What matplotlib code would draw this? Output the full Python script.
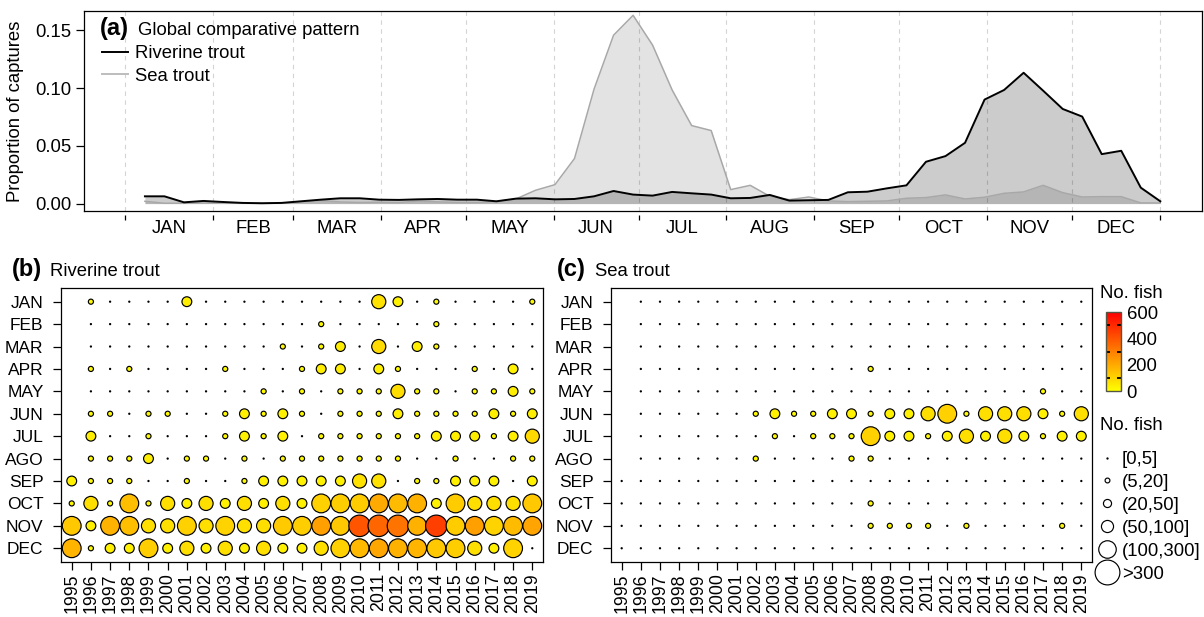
import numpy as np
import matplotlib
matplotlib.use("Agg")
import matplotlib.pyplot as plt
from matplotlib.colors import LinearSegmentedColormap, Normalize
from matplotlib.cm import ScalarMappable
from matplotlib.lines import Line2D

plt.rcParams['font.family'] = ['Liberation Sans', 'DejaVu Sans']

# ---------------- data: panel (a) ----------------
months_a = ['JAN', 'FEB', 'MAR', 'APR', 'MAY', 'JUN', 'JUL', 'AUG', 'SEP', 'OCT', 'NOV', 'DEC']
month_days = [31, 28, 31, 30, 31, 30, 31, 31, 30, 31, 30, 31]
weeks = list(range(1, 54))
riverine = [0.0063, 0.0063, 0.0011, 0.0023, 0.0014, 0.0006, 0.0003, 0.0006, 0.0020, 0.0034,
            0.0046, 0.0046, 0.0034, 0.0032, 0.0037, 0.0040, 0.0034, 0.0034, 0.0020, 0.0043,
            0.0046, 0.0037, 0.0040, 0.0063, 0.0109, 0.0078, 0.0069, 0.0101, 0.0089, 0.0078,
            0.0046, 0.0049, 0.0075, 0.0026, 0.0029, 0.0032, 0.0098, 0.0103, 0.0132, 0.0158,
            0.0362, 0.0411, 0.0526, 0.0900, 0.0983, 0.1132, 0.0977, 0.0819, 0.0753, 0.0428,
            0.0457, 0.0138, 0.0020]
sea = [0.0020, 0.0003, 0.0003, 0.0005, 0.0005, 0.0003, 0.0003, 0.0005, 0.0015, 0.0028,
       0.0014, 0.0010, 0.0012, 0.0009, 0.0023, 0.0015, 0.0010, 0.0010, 0.0017, 0.0040,
       0.0115, 0.0164, 0.0390, 0.0990, 0.1457, 0.1629, 0.1371, 0.0983, 0.0675, 0.0632,
       0.0121, 0.0158, 0.0063, 0.0034, 0.0057, 0.0023, 0.0017, 0.0020, 0.0023, 0.0046,
       0.0052, 0.0075, 0.0040, 0.0055, 0.0089, 0.0101, 0.0158, 0.0095, 0.0057, 0.0060,
       0.0060, 0.0006, 0.0006]

# ---------------- data: panels (b) and (c) ----------------
years = [str(y) for y in range(1995, 2020)]
months_b = ['JAN', 'FEB', 'MAR', 'APR', 'MAY', 'JUN', 'JUL', 'AGO', 'SEP', 'OCT', 'NOV', 'DEC']
nan = np.nan
riv_counts = [
    [nan, 12, 2, 2, 2, 2, 40, 2, 2, 2, 2, 2, 2, 2, 2, 2, 70, 35, 2, 12, 2, 2, 2, 2, 12],
    [nan, 2, 2, 2, 2, 2, 2, 2, 2, 2, 2, 2, 2, 12, 2, 2, 2, 2, 2, 12, 2, 2, 2, 2, 2],
    [nan, 2, 2, 2, 2, 2, 2, 2, 2, 2, 2, 12, 2, 12, 40, 2, 85, 2, 40, 12, 2, 2, 2, 2, 2],
    [nan, 12, 2, 12, 2, 2, 2, 2, 12, 2, 2, 2, 12, 40, 40, 2, 35, 12, 2, 2, 2, 12, 2, 35, 2],
    [nan, 2, 2, 2, 2, 2, 2, 2, 2, 2, 12, 2, 12, 2, 12, 12, 12, 80, 12, 12, 2, 12, 12, 40, 12],
    [nan, 12, 12, 2, 12, 12, 2, 2, 12, 35, 12, 35, 12, 2, 12, 12, 12, 40, 12, 12, 15, 15, 40, 12, 40],
    [nan, 40, 2, 2, 12, 2, 2, 2, 12, 35, 12, 35, 2, 12, 12, 12, 12, 12, 12, 40, 40, 40, 12, 40, 90],
    [nan, 12, 12, 12, 40, 2, 12, 12, 2, 12, 2, 12, 12, 12, 12, 12, 12, 12, 2, 2, 12, 2, 2, 12, 12],
    [35, 12, 12, 12, 2, 2, 12, 2, 2, 12, 35, 35, 35, 35, 35, 70, 70, 2, 12, 12, 35, 35, 35, 2, 35],
    [12, 75, 12, 150, 12, 75, 35, 75, 35, 75, 35, 75, 35, 110, 115, 120, 200, 160, 185, 35, 120, 75, 75, 75, 130],
    [130, 35, 180, 150, 75, 75, 110, 75, 105, 75, 75, 125, 115, 225, 130, 400, 360, 330, 185, 450, 120, 225, 105, 160, 215],
    [175, 12, 35, 35, 115, 35, 75, 35, 75, 35, 75, 35, 35, 75, 110, 165, 210, 185, 175, 130, 115, 75, 35, 105, 2],
]
sea_counts = [
    [nan, 2, 2, 2, 2, 2, 2, 2, 2, 2, 2, 2, 2, 2, 2, 2, 2, 2, 2, 2, 2, 2, 2, 2, 2],
    [nan, 2, 2, 2, 2, 2, 2, 2, 2, 2, 2, 2, 2, 2, 2, 2, 2, 2, 2, 2, 2, 2, 2, 2, 2],
    [nan, 2, 2, 2, 2, 2, 2, 2, 2, 2, 2, 2, 2, 2, 2, 2, 2, 2, 2, 2, 2, 2, 2, 2, 2],
    [nan, 2, 2, 2, 2, 2, 2, 2, 2, 2, 2, 2, 2, 12, 2, 2, 2, 2, 2, 2, 2, 2, 2, 2, 2],
    [nan, 2, 2, 2, 2, 2, 2, 2, 2, 2, 2, 2, 2, 2, 2, 2, 2, 2, 2, 2, 2, 2, 12, 2, 2],
    [nan, 2, 2, 2, 2, 2, 2, 12, 35, 12, 12, 35, 35, 12, 35, 35, 75, 110, 12, 75, 75, 75, 35, 12, 75],
    [nan, 2, 2, 2, 2, 2, 2, 2, 12, 2, 12, 12, 12, 110, 35, 35, 12, 35, 75, 35, 75, 35, 12, 35, 35],
    [nan, 2, 2, 2, 2, 2, 2, 12, 2, 2, 2, 2, 12, 12, 2, 2, 2, 2, 2, 2, 2, 2, 2, 2, 2],
    [2, 2, 2, 2, 2, 2, 2, 2, 2, 2, 2, 2, 2, 2, 2, 2, 2, 2, 2, 2, 2, 2, 2, 2, 2],
    [2, 2, 2, 2, 2, 2, 2, 2, 2, 2, 2, 2, 2, 12, 2, 2, 2, 2, 2, 2, 2, 2, 2, 2, 2],
    [2, 2, 2, 2, 2, 2, 2, 2, 2, 2, 2, 2, 2, 12, 12, 12, 12, 2, 12, 2, 2, 2, 2, 12, 2],
    [2, 2, 2, 2, 2, 2, 2, 2, 2, 2, 2, 2, 2, 2, 2, 2, 2, 2, 2, 2, 2, 2, 2, 2, 2],
]
size_bins = [5, 20, 50, 100, 300]
size_labels = ['[0,5]', '(5,20]', '(20,50]', '(50,100]', '(100,300]', '>300']
cbar_ticks = [0, 200, 400, 600]

# ---------------- styling ----------------
W, H = 1204, 617
FS = 13.3
chart_diam_px = [2.3, 6.3, 11.0, 15.3, 20.0, 22.7]
legend_diam_px = [2.3, 6.0, 9.3, 13.3, 18.7, 26.0]
cmap = LinearSegmentedColormap.from_list('heat', ['#FFFF00', '#FF0000'])
norm = Normalize(0, 600)

fig = plt.figure(figsize=(W / 100, H / 100), dpi=100)


def fax(l, t, r, b):
    return fig.add_axes([l / W, 1 - b / H, (r - l) / W, (b - t) / H])


# ---------------- panel (a) ----------------
ax = fax(84, 10.7, 1201.7, 211)
xw = np.array(weeks) * 365 / 53
bounds = np.concatenate([[0], np.cumsum(month_days)])
centers = bounds[:-1] + np.array(month_days) / 2
for b in bounds:
    ax.axvline(b, color='#d4d4d4', lw=0.8, ls=(0, (4, 4)), zorder=0)
ax.fill_between(xw, 0, sea, color='black', alpha=0.11, lw=0, zorder=1)
ax.fill_between(xw, 0, riverine, color='black', alpha=0.20, lw=0, zorder=1)
ax.plot(xw, sea, color='#a8a8a8', lw=1.1, zorder=2)
ax.plot(xw, riverine, color='black', lw=1.4, zorder=3)
ax.set_xlim(-14.6, 379.6)
ax.set_ylim(-0.0064, 0.1669)
ax.set_xticks([])
ax.set_yticks([0, 0.05, 0.10, 0.15], labels=['0.00', '0.05', '0.10', '0.15'])
ax.tick_params(axis='y', length=5.8, width=0.9, pad=3, labelsize=FS)
for s in ax.spines.values():
    s.set_linewidth(0.9)
sec = ax.secondary_xaxis(-0.02)
sec.spines['bottom'].set_visible(False)
sec.set_xticks(bounds, labels=[''] * len(bounds))
sec.set_xticks(centers, labels=months_a, minor=True)
sec.tick_params(which='major', length=3.8, width=0.9)
sec.tick_params(which='minor', length=0, pad=3.5, labelsize=FS)
fig.text(16 / W, 1 - 111 / H, 'Proportion of captures', rotation=90,
         ha='center', va='center', fontsize=FS)
fig.text(100 / W, 1 - 35.3 / H, '(a)', fontweight='bold', fontsize=17, va='baseline')
fig.text(138 / W, 1 - 35.3 / H, 'Global comparative pattern', fontsize=FS, va='baseline')
leg_a = ax.legend(handles=[Line2D([], [], color='black', lw=1.4),
                           Line2D([], [], color='#bdbdbd', lw=1.4)],
                  labels=['Riverine trout', 'Sea trout'],
                  loc='upper left', bbox_to_anchor=(102 / W, 1 - 45 / H),
                  bbox_transform=fig.transFigure, frameon=False, fontsize=FS,
                  borderpad=0, handlelength=1.4, handletextpad=0.38, labelspacing=0.31,
                  borderaxespad=0)


# ---------------- panels (b), (c) ----------------
def bubble(ax, counts):
    arr = np.array(counts, dtype=float)
    yy, xx = np.nonzero(~np.isnan(arr))
    vals = arr[yy, xx]
    bins = np.digitize(vals, size_bins, right=True)
    diam = np.array(chart_diam_px)[bins]
    dots = bins == 0
    ax.scatter(xx[dots], yy[dots], s=(diam[dots] * 0.72) ** 2, color='black',
               linewidths=0, zorder=3)
    ax.scatter(xx[~dots], yy[~dots], s=((diam[~dots] - 1.2) * 0.72) ** 2,
               c=vals[~dots], cmap=cmap, norm=norm, edgecolors='black',
               linewidths=0.85, zorder=3)
    ax.set_xlim(-0.574, 24.574)
    ax.set_ylim(11.6, -0.624)
    ax.set_xticks(range(len(years)), labels=years, rotation=90)
    ax.set_yticks(range(len(months_b)), labels=months_b)
    ax.tick_params(axis='x', length=5.8, width=0.9, pad=2.5, labelsize=12.8)
    ax.tick_params(axis='y', length=5.8, width=0.9, pad=6.5, labelsize=12.5)
    for s in ax.spines.values():
        s.set_linewidth(0.9)


ax_b = fax(60.7, 287.7, 543.3, 561.7)
bubble(ax_b, riv_counts)
ax_c = fax(610.7, 287.7, 1092.3, 561.7)
bubble(ax_c, sea_counts)

fig.text(12 / W, 1 - 276 / H, '(b)', fontweight='bold', fontsize=17, va='baseline')
fig.text(50 / W, 1 - 276 / H, 'Riverine trout', fontsize=FS, va='baseline')
fig.text(557 / W, 1 - 276 / H, '(c)', fontweight='bold', fontsize=17, va='baseline')
fig.text(595 / W, 1 - 276 / H, 'Sea trout', fontsize=FS, va='baseline')

# colour bar legend
cax = fax(1105.7, 312.3, 1121, 391)
cb = fig.colorbar(ScalarMappable(norm=norm, cmap=cmap), cax=cax, ticks=cbar_ticks)
cb.outline.set_edgecolor('#555544')
cb.outline.set_linewidth(1.0)
cax.set_yticks([100, 200, 300, 400, 500], minor=True)
cax.tick_params(which='major', length=0, pad=4, labelsize=FS)
cax.tick_params(which='minor', direction='in', left=True, right=True,
                length=2.6, width=1.3, color='black')
fig.text(1100 / W, 1 - 293 / H, 'No. fish', fontsize=FS, va='center', ha='left')
fig.text(1100 / W, 1 - 425 / H, 'No. fish', fontsize=FS, va='center', ha='left')

# size legend
handles = []
for i, d in enumerate(legend_diam_px):
    if i == 0:
        handles.append(Line2D([], [], ls='', marker='o', markersize=d * 0.72,
                              mfc='black', mec='black', mew=0))
    else:
        handles.append(Line2D([], [], ls='', marker='o', markersize=(d - 1.2) * 0.72,
                              mfc='white', mec='black', mew=0.85))
leg = ax_c.legend(handles=handles, labels=size_labels, loc='upper left',
                  bbox_to_anchor=(1097.8 / W, 1 - 451 / H), bbox_transform=fig.transFigure,
                  frameon=False, fontsize=FS, borderpad=0, handlelength=1.0,
                  handletextpad=0.3, labelspacing=0.32, borderaxespad=0)

fig.savefig('out.png', dpi=100)
